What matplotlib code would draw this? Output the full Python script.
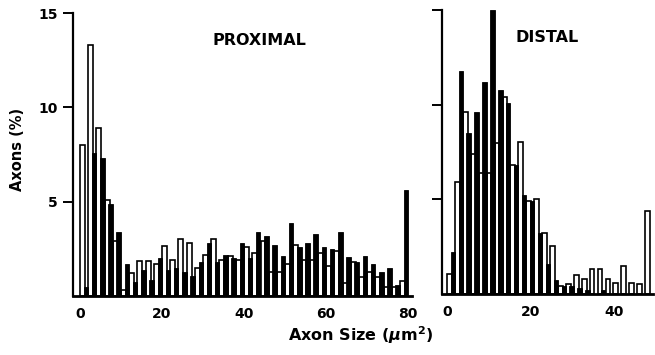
import numpy as np
import matplotlib
matplotlib.use('Agg')
import matplotlib.pyplot as plt

# Axon size distributions (% of axons per bin), open = white bars, filled = black bars
proximal_open = [8.0, 13.3, 8.9, 5.1, 2.9, 0.3, 1.2, 1.85, 1.85, 1.7,
                 2.65, 1.9, 3.05, 2.8, 1.5, 2.2, 3.05, 1.9, 2.15, 1.9,
                 2.6, 2.3, 2.9, 1.3, 1.3, 1.7, 2.7, 1.9, 1.9, 2.3,
                 1.6, 2.4, 0.7, 1.8, 1.0, 1.3, 1.0, 0.5, 0.5, 0.8]
proximal_filled = [0.5, 7.6, 7.3, 4.9, 3.4, 1.7, 0.75, 1.4, 0.85, 2.0,
                   1.4, 1.5, 1.3, 1.05, 1.8, 2.8, 1.8, 2.2, 2.0, 2.8,
                   2.0, 3.4, 3.2, 2.7, 2.1, 3.9, 2.6, 2.8, 3.3, 2.6,
                   2.5, 3.4, 2.05, 1.8, 2.1, 1.7, 1.3, 1.5, 0.6, 5.6]

distal_open = [1.05, 5.9, 9.6, 7.4, 6.4, 6.4, 8.0, 10.4, 6.8, 8.05,
               4.9, 5.0, 3.2, 2.55, 0.42, 0.55, 1.0, 0.8, 1.3, 1.3,
               0.8, 0.6, 1.5, 0.6, 0.5, 4.4]
distal_filled = [2.2, 11.8, 8.5, 9.6, 11.2, 15.0, 10.8, 10.1, 6.8, 5.25,
                 4.9, 3.2, 1.6, 0.74, 0.4, 0.4, 0.3, 0.2, 0.0, 0.2,
                 0.0, 0.0, 0.0, 0.0, 0.0, 0.0]

proximal_ticks = [0, 20, 40, 60, 80]
distal_ticks = [0, 20, 40]
y_ticks = [5, 10, 15]

plt.rcParams['font.family'] = ['DejaVu Sans']
plt.rcParams['font.weight'] = 'bold'
plt.rcParams['mathtext.fontset'] = 'custom'
plt.rcParams['mathtext.rm'] = 'DejaVu Sans:bold'
plt.rcParams['mathtext.it'] = 'DejaVu Sans:italic:bold'


# Draws paired open / filled bars for one panel
def paired_bars(ax, open_vals, filled_vals, bin_w):
    k = np.arange(len(open_vals))
    ax.bar(k * bin_w + 0.3 * bin_w, open_vals, width=0.6 * bin_w,
           color='white', edgecolor='black', linewidth=1.2, zorder=2)
    ax.bar(k * bin_w + 0.72 * bin_w, filled_vals, width=0.55 * bin_w,
           color='black', edgecolor='black', linewidth=0.6, zorder=3)


def style_axes(ax, xlim, xticks, show_ylabels):
    ax.set_xlim(*xlim)
    ax.set_ylim(0, 15)
    for side in ['top', 'right']:
        ax.spines[side].set_visible(False)
    ax.spines['left'].set_linewidth(1.6)
    ax.spines['bottom'].set_linewidth(2.0)
    ax.set_xticks(xticks)
    ax.set_yticks(y_ticks)
    ax.tick_params(axis='x', length=0, pad=8, labelsize=10)
    ax.tick_params(axis='y', length=7, width=1.4, pad=4, labelsize=10)
    if not show_ylabels:
        ax.set_yticklabels([])


fig = plt.figure(figsize=(6.55, 3.55), dpi=100)
ax1 = fig.add_axes([0.1115, 0.166, 0.518, 0.797])
ax2 = fig.add_axes([0.675, 0.172, 0.322, 0.799])

paired_bars(ax1, proximal_open, proximal_filled, 2.0)
paired_bars(ax2, distal_open, distal_filled, 1.9)

style_axes(ax1, (-1.7, 81.0), proximal_ticks, True)
style_axes(ax2, (-1.2, 49.4), distal_ticks, False)

ax1.text(0.55, 0.905, 'PROXIMAL', transform=ax1.transAxes, ha='center', va='center',
         fontsize=11.5, fontweight='bold')
ax2.text(0.50, 0.905, 'DISTAL', transform=ax2.transAxes, ha='center', va='center',
         fontsize=11.5, fontweight='bold')

fig.text(0.027, 0.58, 'Axons (%)', rotation=90, ha='center', va='center',
         fontsize=10.5, fontweight='bold')
fig.text(0.55, 0.056, r'Axon Size ($\mu\mathrm{m}^{\mathrm{2}}$)', ha='center', va='center',
         fontsize=11.5, fontweight='bold')

fig.savefig('out.png', dpi=100)
